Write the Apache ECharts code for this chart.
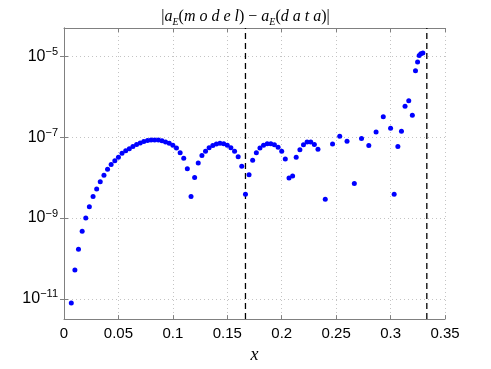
<!DOCTYPE html>
<html>
<head>
<meta charset="utf-8">
<title>|a_E(model) - a_E(data)|</title>
<script src="https://cdn.jsdelivr.net/npm/echarts@6/dist/echarts.min.js"></script>
<style>
  html, body { margin: 0; padding: 0; background: #fff; }
  #chart { width: 491px; height: 369px; }
</style>
</head>
<body>
<div id="chart"></div>
<script>
// sample positions x
const xValues = [
  0.0067, 0.0100, 0.0133, 0.0167, 0.0200, 0.0233, 0.0267, 0.0300, 0.0333, 0.0367,
  0.0400, 0.0433, 0.0467, 0.0500, 0.0533, 0.0567, 0.0600, 0.0633, 0.0667, 0.0700,
  0.0733, 0.0767, 0.0800, 0.0833, 0.0867, 0.0900, 0.0933, 0.0967, 0.1000, 0.1033,
  0.1067, 0.1100, 0.1133, 0.1167, 0.1200, 0.1233, 0.1267, 0.1300, 0.1333, 0.1367,
  0.1400, 0.1433, 0.1467, 0.1500, 0.1533, 0.1567, 0.1600, 0.1633, 0.1667, 0.1700,
  0.1733, 0.1767, 0.1800, 0.1833, 0.1867, 0.1900, 0.1933, 0.1967, 0.2000, 0.2033,
  0.2067, 0.2100, 0.2133, 0.2167, 0.2200, 0.2233, 0.2267, 0.2300, 0.2333,
  0.2400, 0.2467, 0.2533, 0.2600, 0.2667, 0.2733, 0.2800, 0.2867, 0.2933, 0.3000,
  0.3033, 0.3067, 0.3100, 0.3133, 0.3167, 0.3200,
  0.3229, 0.3248, 0.3263, 0.3278, 0.3297
];

// |a_E(model) - a_E(data)| at each x
const errValues = [
  7.9e-12, 5.2e-11, 1.7e-10, 4.7e-10, 1.0e-9, 1.9e-9, 3.4e-9, 5.2e-9, 7.9e-9, 1.15e-8,
  1.6e-8, 2.1e-8, 2.6e-8, 3.2e-8, 4.0e-8, 4.6e-8, 5.2e-8, 5.9e-8, 6.6e-8, 7.2e-8,
  7.8e-8, 8.3e-8, 8.5e-8, 8.5e-8, 8.5e-8, 8.1e-8, 7.6e-8, 7.1e-8, 6.3e-8, 5.4e-8,
  4.1e-8, 3.0e-8, 1.66e-8, 3.4e-9, 1.0e-8, 2.3e-8, 3.5e-8, 4.5e-8, 5.5e-8, 6.2e-8,
  6.8e-8, 7.1e-8, 6.9e-8, 6.3e-8, 5.5e-8, 4.5e-8, 3.3e-8, 1.9e-8, 3.9e-9, 1.17e-8,
  2.7e-8, 4.1e-8, 5.4e-8, 6.3e-8, 6.9e-8, 6.9e-8, 6.5e-8, 5.6e-8, 4.5e-8, 2.9e-8,
  9.8e-9, 1.1e-8, 3.2e-8, 4.9e-8, 6.5e-8, 7.6e-8, 7.6e-8, 6.6e-8, 5.0e-8,
  2.9e-9, 6.8e-8, 1.05e-7, 7.9e-8, 7.1e-9, 9.3e-8, 6.2e-8, 1.35e-7, 3.2e-7, 1.66e-7,
  3.9e-9, 5.9e-8, 1.4e-7, 5.8e-7, 7.9e-7, 3.5e-7,
  4.4e-6, 7.2e-6, 1.05e-5, 1.15e-5, 1.2e-5
];

// y ticks (decade exponents) and the two dashed dividers
const yTickExps = [-11, -9, -7, -5];
const yRange = [-11.5, -4.3];
const xRange = [0, 0.35];
const xStep = 0.05;
const dividerX = [0.1667, 0.3333];

const FRAME = '#808080';
const GRID = '#c4c4c4';
const SANS = '"Liberation Sans", Arial, sans-serif';
const SERIF = '"Liberation Serif", "DejaVu Serif", serif';

const chart = echarts.init(document.getElementById('chart'));

// exponent axis: plot log10 of the error on a linear value axis
const points = xValues.map((x, i) => [x, Math.log10(errValues[i])]);

const mirrorAxis = {
  axisLine: { show: true, lineStyle: { color: FRAME, width: 1 } },
  axisTick: { show: true, inside: true, length: 4, lineStyle: { color: FRAME } },
  axisLabel: { show: false },
  splitLine: { show: false }
};

// title pieces: plain, italic, subscript
const titleRich = {
  t: { fontFamily: SERIF, fontWeight: 'normal', fontSize: 16, color: '#000', lineHeight: 20 },
  i: { fontFamily: SERIF, fontWeight: 'normal', fontStyle: 'italic', fontSize: 16, color: '#000', lineHeight: 20 },
  s: { fontFamily: SERIF, fontWeight: 'normal', fontStyle: 'italic', fontSize: 10, color: '#000', verticalAlign: 'bottom', lineHeight: 12 }
};

// vertical dashed dividers, each drawn as a two-point line across the y range
const dividerSeries = dividerX.map(x => ({
  type: 'line',
  data: [[x, yRange[0]], [x, yRange[1]]],
  symbol: 'none',
  silent: true,
  z: 3,
  lineStyle: { color: '#000', type: [6, 4], width: 1.3 }
}));

const option = {
  animation: false,
  backgroundColor: '#fff',
  title: {
    text: '{t||}{i|a}{s|E}{t|(}{i|m o d e l}{t|)}{t| − }{i|a}{s|E}{t|(}{i|d a t a}{t|)}{t||}',
    left: 'center',
    top: 2,
    textStyle: { fontWeight: 'normal', rich: titleRich }
  },
  grid: { left: 64, right: 46, top: 28, bottom: 42 },
  xAxis: [
    {
      type: 'value',
      min: xRange[0],
      max: xRange[1],
      interval: xStep,
      name: 'x',
      nameLocation: 'middle',
      nameGap: 21,
      nameTextStyle: { fontFamily: SERIF, fontStyle: 'italic', fontSize: 18, color: '#000' },
      axisLine: { show: true, lineStyle: { color: FRAME, width: 1 } },
      axisTick: { show: true, inside: true, length: 4, lineStyle: { color: FRAME } },
      axisLabel: {
        color: '#000',
        fontFamily: SANS,
        fontSize: 15,
        margin: 7,
        formatter: v => (v === 0 ? '0' : String(+v.toFixed(2)))
      },
      splitLine: { show: true, lineStyle: { color: GRID, type: [1, 3], width: 1 } }
    },
    Object.assign({ type: 'value', position: 'top', min: xRange[0], max: xRange[1], interval: xStep }, mirrorAxis)
  ],
  yAxis: [
    {
      type: 'value',
      min: yRange[0],
      max: yRange[1],
      axisLine: { show: true, lineStyle: { color: FRAME, width: 1 } },
      axisTick: { show: true, inside: true, length: 4, customValues: yTickExps, lineStyle: { color: FRAME } },
      axisLabel: {
        customValues: yTickExps,
        margin: 6,
        formatter: v => '{b|10}{s|−' + Math.abs(Math.round(v)) + '}',
        rich: {
          b: { fontFamily: SANS, fontSize: 16, color: '#000', lineHeight: 20 },
          s: { fontFamily: SANS, fontSize: 11, color: '#000', verticalAlign: 'top', lineHeight: 12 }
        }
      },
      splitLine: { show: true, lineStyle: { color: GRID, type: [1, 3], width: 1 } }
    },
    Object.assign({
      type: 'value', position: 'right', min: yRange[0], max: yRange[1]
    }, mirrorAxis, {
      axisTick: { show: true, inside: true, length: 4, customValues: yTickExps, lineStyle: { color: FRAME } }
    })
  ],
  series: dividerSeries.concat([
    {
      type: 'scatter',
      data: points,
      symbolSize: 5,
      z: 4,
      itemStyle: { color: '#0000ff', opacity: 1 },
      emphasis: { disabled: true }
    }
  ])
};

chart.setOption(option);
</script>
</body>
</html>
